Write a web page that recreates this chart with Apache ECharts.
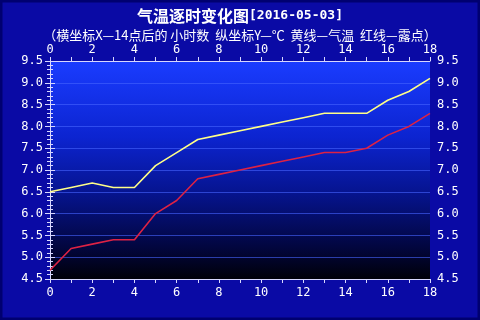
<!DOCTYPE html>
<html><head><meta charset="utf-8">
<script src="https://cdn.jsdelivr.net/npm/echarts@6/dist/echarts.min.js"></script>
<style>html,body{margin:0;padding:0;background:#0a0aa5}#c{width:480px;height:320px}</style>
</head><body><div id="c"></div>
<script>
const hours = [0,1,2,3,4,5,6,7,8,9,10,11,12,13,14,15,16,17,18];
const temperature = [6.5,6.6,6.7,6.6,6.6,7.1,7.4,7.7,7.8,7.9,8.0,8.1,8.2,8.3,8.3,8.3,8.6,8.8,9.1];
const dewPoint = [4.7,5.2,5.3,5.4,5.4,6.0,6.3,6.8,6.9,7.0,7.1,7.2,7.3,7.4,7.4,7.5,7.8,8.0,8.3];
const titleMain = '气温逐时变化图';
const titleDate = '[2016-05-03]';
const subtitle = '（横坐标X—14点后的 小时数  纵坐标Y—℃  黄线—气温  红线—露点）';

const chart = echarts.init(document.getElementById('c'), null, {renderer:'canvas'});
const axisColor = '#d8d8ff';
const numFont = 'DejaVu Sans Mono';
function xAxisDef(pos){
  return {type:'value', position:pos, min:0, max:18, interval:2,
    axisLine:{show:true,lineStyle:{color:axisColor,width:1}},
    axisTick:{show:true,length:4,lineStyle:{color:axisColor}},
    minorTick:{show:true,splitNumber:2,length:4,lineStyle:{color:axisColor}},
    axisLabel:{color:'#ffffff',fontFamily:numFont,fontSize:12,margin:pos==='top'?5:8},
    splitLine:{show:false}};
}
function yAxisDef(pos){
  return {type:'value', position:pos, min:4.5, max:9.5, interval:0.5,
    axisLine:{show:true,lineStyle:{color:axisColor,width:1}},
    axisTick:{show:true,length:5,lineStyle:{color:axisColor}},
    minorTick:{show:true,splitNumber:5,length:3,lineStyle:{color:axisColor}},
    axisLabel:{color:'#ffffff',fontFamily:numFont,fontSize:12,margin:7,formatter:v=>v.toFixed(1)},
    splitLine:{show:pos==='left',lineStyle:{color:'rgba(70,100,255,0.6)',width:1}}};
}
chart.setOption({
  backgroundColor:'#0a0aa5',
  animation:false,
  graphic:[{type:'rect',shape:{x:1,y:1,width:478,height:318},
    style:{fill:null,stroke:'#000070',lineWidth:3},silent:true,z:-1}],
  title:[{
    text:'{a|'+titleMain+'}{b|'+titleDate+'}',
    left:'center', top:3,
    textStyle:{rich:{
      a:{color:'#ffffff',fontSize:16,fontWeight:'bold',fontFamily:'Noto Sans CJK SC'},
      b:{color:'#ffffff',fontSize:13,fontFamily:numFont}
    }}
  },{
    text:subtitle, left:'center', top:23,
    textStyle:{color:'#ffffff',fontSize:13,fontWeight:'normal',fontFamily:'Noto Sans CJK SC',lineHeight:15}
  }],
  grid:{left:50,right:50,top:61,bottom:41,show:true,borderWidth:0,
    backgroundColor:new echarts.graphic.LinearGradient(0,0,0,1,[
      {offset:0,color:'#1a3cff'},
      {offset:0.35,color:'#0c24d0'},
      {offset:0.6,color:'#061490'},
      {offset:0.85,color:'#020640'},
      {offset:1,color:'#000008'}
    ])},
  xAxis:[xAxisDef('bottom'), xAxisDef('top')],
  yAxis:[yAxisDef('left'), yAxisDef('right')],
  series:[
    {type:'line',data:hours.map((h,i)=>[h,temperature[i]]),showSymbol:false,
      lineStyle:{color:'#ffff88',width:1.6},itemStyle:{color:'#ffff88'}},
    {type:'line',data:hours.map((h,i)=>[h,dewPoint[i]]),showSymbol:false,
      lineStyle:{color:'#dd2244',width:1.6},itemStyle:{color:'#dd2244'}}
  ]
});
</script></body></html>
